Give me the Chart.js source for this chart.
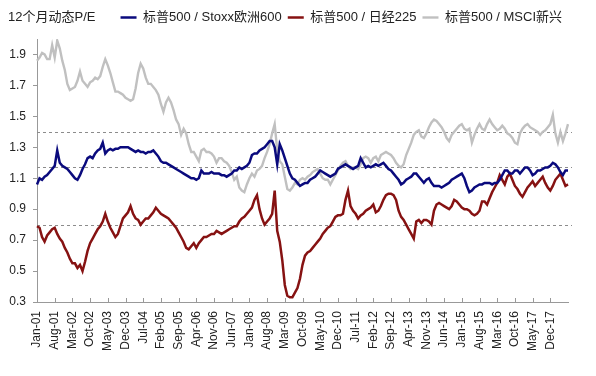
<!DOCTYPE html>
<html>
<head>
<meta charset="utf-8">
<script src="https://cdn.jsdelivr.net/npm/chart.js@4.4.0/dist/chart.umd.min.js"></script>
<style>
  html, body { margin: 0; padding: 0; background: #fff; }
</style>
</head>
<body>
<canvas id="peChart" width="596" height="376"></canvas>
<script>
// Eixo X: meses de Jan-01 a Jul-18, rótulo a cada 7 meses
const monthNames = ['Jan', 'Feb', 'Mar', 'Apr', 'May', 'Jun', 'Jul', 'Aug', 'Sep', 'Oct', 'Nov', 'Dec'];
const months = [];
for (let y = 2001; y <= 2018; y++) {
    for (let m = 0; m < 12; m++) {
        if (y === 2018 && m > 6) break;
        months.push(monthNames[m] + '-' + String(y).slice(2));
    }
}
const labelStep = 7;
const lastLabelIndex = 203; // Dec-17

// Valores do eixo Y
const yTicks = [0.3, 0.5, 0.7, 0.9, 1.1, 1.3, 1.5, 1.7, 1.9];

// Séries (P/E relativo, mensal)
const stoxxRatio = [
    1.06, 1.10, 1.09, 1.11, 1.12, 1.14, 1.16, 1.18, 1.28, 1.20,
    1.18, 1.17, 1.16, 1.14, 1.12, 1.10, 1.09, 1.12, 1.16, 1.19,
    1.23, 1.24, 1.23, 1.26, 1.28, 1.29, 1.33, 1.26, 1.28, 1.29,
    1.28, 1.29, 1.29, 1.30, 1.30, 1.30, 1.30, 1.29, 1.28, 1.27,
    1.28, 1.27, 1.27, 1.26, 1.27, 1.27, 1.28, 1.26, 1.24, 1.21,
    1.20, 1.20, 1.19, 1.18, 1.17, 1.16, 1.15, 1.14, 1.13, 1.12,
    1.11, 1.10, 1.10, 1.09, 1.10, 1.15, 1.13, 1.13, 1.13, 1.14,
    1.13, 1.13, 1.13, 1.12, 1.12, 1.11, 1.12, 1.13, 1.15, 1.15,
    1.17, 1.16, 1.17, 1.18, 1.20, 1.25, 1.26, 1.26, 1.28, 1.29,
    1.30, 1.32, 1.34, 1.34, 1.30, 1.19, 1.32, 1.28, 1.23, 1.18,
    1.13, 1.10, 1.09, 1.07, 1.05, 1.06, 1.07, 1.07, 1.09, 1.10,
    1.11, 1.13, 1.15, 1.14, 1.13, 1.12, 1.11, 1.12, 1.13, 1.16,
    1.17, 1.18, 1.19, 1.18, 1.17, 1.16, 1.17, 1.18, 1.23, 1.20,
    1.17, 1.18, 1.17, 1.18, 1.19, 1.18, 1.19, 1.20, 1.18, 1.16,
    1.15, 1.13, 1.11, 1.09, 1.06, 1.07, 1.09, 1.10, 1.11, 1.13,
    1.13, 1.11, 1.09, 1.07, 1.09, 1.10, 1.07, 1.05, 1.05, 1.05,
    1.04, 1.05, 1.06, 1.07, 1.09, 1.10, 1.11, 1.12, 1.13, 1.10,
    1.05, 1.01, 1.02, 1.04, 1.05, 1.06, 1.06, 1.07, 1.07, 1.07,
    1.06, 1.07, 1.07, 1.09, 1.12, 1.15, 1.15, 1.13, 1.13, 1.15,
    1.15, 1.13, 1.15, 1.17, 1.17, 1.15, 1.12, 1.13, 1.15, 1.15,
    1.16, 1.17, 1.17, 1.18, 1.20, 1.19, 1.17, 1.14, 1.12, 1.15,
    1.15
];
const nikkeiRatio = [
    0.79, 0.78, 0.72, 0.69, 0.73, 0.75, 0.77, 0.78, 0.74, 0.71,
    0.69, 0.65, 0.62, 0.58, 0.55, 0.55, 0.52, 0.54, 0.50, 0.56,
    0.63, 0.68, 0.71, 0.74, 0.77, 0.79, 0.82, 0.87, 0.82, 0.78,
    0.75, 0.72, 0.74, 0.79, 0.84, 0.86, 0.88, 0.92, 0.87, 0.84,
    0.83, 0.80, 0.82, 0.84, 0.84, 0.86, 0.88, 0.91, 0.89, 0.87,
    0.86, 0.85, 0.84, 0.82, 0.80, 0.78, 0.75, 0.72, 0.69, 0.65,
    0.64, 0.66, 0.68, 0.65, 0.68, 0.70, 0.72, 0.72, 0.73, 0.74,
    0.74, 0.76, 0.75, 0.74, 0.75, 0.76, 0.77, 0.78, 0.79, 0.79,
    0.82, 0.84, 0.85, 0.87, 0.89, 0.91, 0.96, 0.99, 0.90, 0.84,
    0.80, 0.82, 0.84, 0.87, 1.02, 0.76, 0.69, 0.57, 0.41, 0.34,
    0.33, 0.33, 0.36, 0.39, 0.45, 0.54, 0.60, 0.62, 0.63, 0.65,
    0.67, 0.69, 0.71, 0.74, 0.76, 0.78, 0.79, 0.82, 0.85, 0.86,
    0.86, 0.87, 0.96, 1.02, 0.92, 0.89, 0.87, 0.84, 0.86, 0.87,
    0.89, 0.90, 0.91, 0.93, 0.88, 0.89, 0.92, 0.96, 0.99, 1.00,
    1.00, 0.99, 0.96, 0.89, 0.85, 0.83, 0.80, 0.77, 0.74, 0.71,
    0.82, 0.83, 0.81, 0.83, 0.83, 0.82, 0.80, 0.89, 0.93, 0.94,
    0.93, 0.92, 0.91, 0.90, 0.92, 0.96, 0.95, 0.93, 0.91, 0.90,
    0.90, 0.89, 0.87, 0.86, 0.87, 0.89, 0.95, 0.95, 0.93, 0.97,
    1.01, 1.04, 1.07, 1.12, 1.09, 1.06, 1.11, 1.13, 1.09, 1.05,
    1.03, 1.00, 0.98, 1.01, 1.04, 1.06, 1.08, 1.05, 1.07, 1.09,
    1.11, 1.07, 1.04, 1.02, 1.05, 1.09, 1.11, 1.13, 1.09, 1.05,
    1.06
];
const msciEmRatio = [
    1.86, 1.88, 1.91, 1.90, 1.87, 1.87, 1.96, 1.88, 1.99, 1.94,
    1.86, 1.80, 1.71, 1.67, 1.68, 1.69, 1.73, 1.79, 1.73, 1.71,
    1.69, 1.72, 1.73, 1.75, 1.74, 1.76, 1.82, 1.87, 1.83, 1.78,
    1.72, 1.66, 1.66, 1.65, 1.64, 1.62, 1.61, 1.60, 1.61, 1.68,
    1.78, 1.84, 1.81, 1.75, 1.71, 1.71, 1.69, 1.67, 1.64, 1.58,
    1.53, 1.59, 1.62, 1.59, 1.54, 1.48, 1.45, 1.38, 1.42, 1.39,
    1.32, 1.27, 1.27, 1.24, 1.21, 1.28, 1.29, 1.27, 1.27, 1.26,
    1.24, 1.20, 1.23, 1.23, 1.21, 1.20, 1.18, 1.14, 1.09, 1.11,
    1.04, 1.02, 1.01, 1.06, 1.10, 1.13, 1.11, 1.15, 1.16, 1.18,
    1.23, 1.27, 1.32, 1.39, 1.45, 1.28, 1.21, 1.19, 1.11, 1.03,
    1.02, 1.04, 1.07, 1.06, 1.09, 1.10, 1.09, 1.11, 1.12, 1.14,
    1.15, 1.16, 1.13, 1.10, 1.09, 1.09, 1.06, 1.09, 1.12, 1.15,
    1.18, 1.20, 1.21, 1.18, 1.16, 1.17, 1.17, 1.16, 1.19, 1.23,
    1.24, 1.23, 1.20, 1.23, 1.24, 1.21, 1.25, 1.26, 1.27, 1.26,
    1.25, 1.23, 1.20, 1.18, 1.17, 1.19, 1.25, 1.29, 1.33, 1.38,
    1.40, 1.41, 1.37, 1.36, 1.39, 1.43, 1.46, 1.48, 1.47, 1.45,
    1.43, 1.40, 1.36, 1.34, 1.38, 1.40, 1.42, 1.44, 1.45, 1.42,
    1.41, 1.42, 1.33, 1.38, 1.42, 1.45, 1.42, 1.41, 1.45, 1.48,
    1.45, 1.43, 1.41, 1.42, 1.44, 1.42, 1.39, 1.38, 1.36, 1.33,
    1.32, 1.39, 1.42, 1.44, 1.45, 1.43, 1.42, 1.41, 1.40, 1.38,
    1.40, 1.41, 1.43, 1.45, 1.51, 1.39, 1.33, 1.40, 1.34, 1.39,
    1.45
];

// Médias históricas (linhas tracejadas)
const avgLines = [1.4, 1.17, 0.8];

const fontFamily = "'Liberation Sans', Arial, 'Noto Sans CJK SC', sans-serif";
Chart.defaults.font.family = fontFamily;
Chart.defaults.color = '#222';

// Legenda com altura fixa para posicionar a área do gráfico
const legendHeight = {
    id: 'legendHeight',
    beforeInit(chart) {
        const origFit = chart.legend.fit;
        chart.legend.fit = function () {
            origFit.call(this);
            this.height = 34;
        };
    }
};

// Título do eixo, linhas de média e marcas do eixo X
const extras = {
    id: 'extras',
    beforeDatasetsDraw(chart) {
        const { ctx, chartArea, scales } = chart;
        ctx.save();
        ctx.strokeStyle = '#8c8c8c';
        ctx.lineWidth = 1;
        ctx.setLineDash([3, 3]);
        avgLines.forEach(v => {
            const y = Math.round(scales.y.getPixelForValue(v)) + 0.5;
            ctx.beginPath();
            ctx.moveTo(chartArea.left, y);
            ctx.lineTo(chartArea.right + 4, y);
            ctx.stroke();
        });
        ctx.setLineDash([]);
        ctx.strokeStyle = '#999';
        for (let i = 0; i <= lastLabelIndex; i += labelStep) {
            const x = Math.round(scales.x.getPixelForValue(i)) + 0.5;
            ctx.beginPath();
            ctx.moveTo(x, chartArea.bottom);
            ctx.lineTo(x, chartArea.bottom - 4);
            ctx.stroke();
        }
        ctx.restore();
    },
    afterDraw(chart) {
        const { ctx } = chart;
        ctx.save();
        ctx.fillStyle = '#222';
        ctx.font = '13px ' + fontFamily;
        ctx.textBaseline = 'middle';
        ctx.fillText('12个月动态P/E', 8, 17);
        ctx.restore();
    }
};

const ctx = document.getElementById('peChart').getContext('2d');
const peChart = new Chart(ctx, {
    type: 'line',
    data: {
        labels: months,
        datasets: [
            {
                label: '标普500 / Stoxx欧洲600',
                data: stoxxRatio,
                borderColor: 'rgb(10, 10, 125)',
                backgroundColor: 'rgb(10, 10, 125)',
                borderWidth: 2.5
            },
            {
                label: '标普500 / 日经225',
                data: nikkeiRatio,
                borderColor: 'rgb(134, 18, 18)',
                backgroundColor: 'rgb(134, 18, 18)',
                borderWidth: 2.5
            },
            {
                label: '标普500 / MSCI新兴',
                data: msciEmRatio,
                borderColor: 'rgb(192, 192, 192)',
                backgroundColor: 'rgb(192, 192, 192)',
                borderWidth: 2.4
            }
        ]
    },
    options: {
        responsive: false,
        animation: false,
        elements: {
            point: { radius: 0 },
            line: { tension: 0 }
        },
        layout: {
            padding: { left: 0, right: 28, top: 5, bottom: 0 }
        },
        plugins: {
            legend: {
                position: 'top',
                align: 'end',
                labels: {
                    usePointStyle: true,
                    pointStyle: 'line',
                    pointStyleWidth: 16,
                    padding: 6,
                    color: '#222',
                    font: { size: 13 }
                }
            },
            tooltip: { enabled: false }
        },
        scales: {
            x: {
                type: 'category',
                grid: { display: false, drawTicks: false },
                border: { display: true, color: '#999' },
                ticks: {
                    autoSkip: false,
                    minRotation: 90,
                    maxRotation: 90,
                    padding: 9,
                    color: '#222',
                    font: { size: 12 },
                    callback: function (value, index) {
                        return (index % labelStep === 0 && index <= lastLabelIndex) ? this.getLabelForValue(value) : '';
                    }
                },
                afterFit(scale) { scale.height = 74; }
            },
            y: {
                min: 0.3,
                max: 2.0,
                grid: { display: true, drawOnChartArea: false, drawTicks: true, tickLength: 4, color: '#999' },
                border: { display: true, color: '#999' },
                ticks: {
                    padding: 7,
                    color: '#222',
                    font: { size: 12 },
                    callback: v => v.toFixed(1)
                },
                afterBuildTicks(scale) { scale.ticks = yTicks.map(v => ({ value: v })); },
                afterFit(scale) { scale.width = 37; }
            }
        }
    },
    plugins: [legendHeight, extras]
});
</script>
</body>
</html>
